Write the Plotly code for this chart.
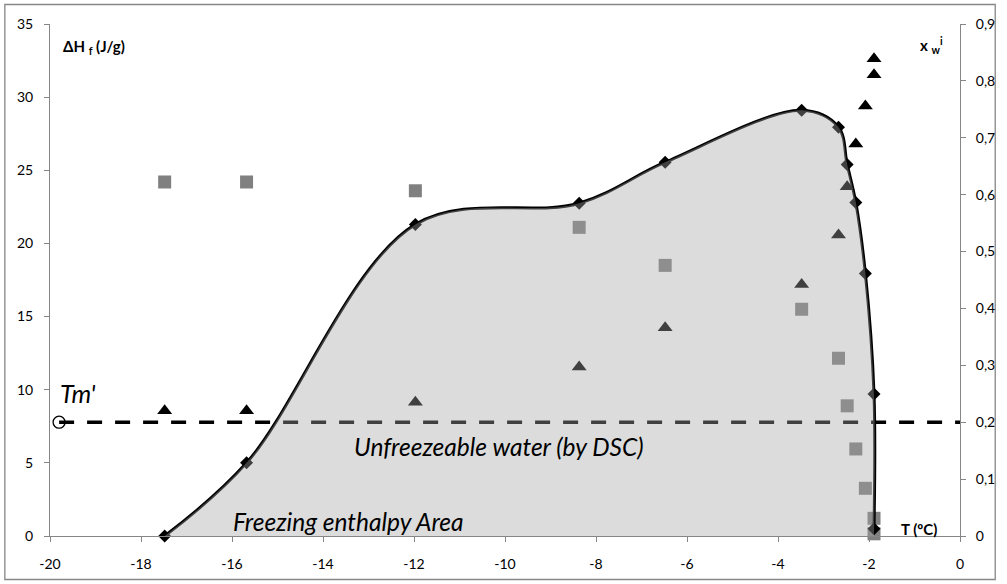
import plotly.graph_objects as go

# Temperature of each sample (ºC)
temp = [-17.48, -15.68, -11.97, -8.37, -6.48, -3.48, -2.67, -2.48, -2.29, -2.08, -1.89, -1.89]
# Freezing enthalpy, smoothed series (J/g)
dh_curve = [0.0, 5.0, 21.3, 22.75, 25.55, 29.1, 27.95, 25.4, 22.8, 17.95, 9.7, 0.5]
# Second enthalpy series (J/g)
dh_squares = [24.2, 24.2, 23.6, 21.1, 18.5, 15.5, 12.15, 8.9, 5.95, 3.26, 1.21, 0.15]
# Water mass fraction x_w^i (right axis)
xw_triangles = [0.22, 0.22, 0.235, 0.297, 0.366, 0.442, 0.529, 0.614, 0.689, 0.756, 0.811, 0.839]

# Unfreezeable water level and Tm'
unfreezable_xw = 0.2
tm_prime = -19.8

x_ticks = list(range(-20, 1, 2))
x_labels = ["-20", "-18", "-16", "-14", "-12", "-10", "-8", "-6", "-4", "-2", "0"]
y_ticks = list(range(0, 36, 5))
xw_ticks = [0.0, 0.1, 0.2, 0.3, 0.4, 0.5, 0.6, 0.7, 0.8, 0.9]
xw_labels = ["0", "0,1", "0,2", "0,3", "0,4", "0,5", "0,6", "0,7", "0,8", "0,9"]

FONT = "Lato"
AXIS_GREY = "#868686"
SMOOTH = 1.0

fig = go.Figure()

fig.add_trace(go.Scatter(
    x=temp, y=dh_squares, mode="markers", yaxis="y", cliponaxis=False,
    marker=dict(symbol="square", size=13, color="#808080", line=dict(width=0)),
))

fig.add_trace(go.Scatter(
    x=temp, y=dh_curve, mode="lines+markers", yaxis="y", cliponaxis=False,
    line=dict(color="black", width=3, shape="spline", smoothing=SMOOTH),
    marker=dict(symbol="diamond", size=10, color="black"),
))

fig.add_trace(go.Scatter(
    x=temp, y=xw_triangles, mode="markers", yaxis="y2", cliponaxis=False,
    marker=dict(symbol="triangle-up", size=13, color="black", line=dict(width=0)),
))

fig.add_trace(go.Scatter(
    x=[tm_prime, 0], y=[unfreezable_xw, unfreezable_xw], mode="lines", yaxis="y2",
    line=dict(color="black", width=3.5, dash="15px,13px"),
))

fig.add_trace(go.Scatter(
    x=[tm_prime], y=[unfreezable_xw], mode="markers", yaxis="y2", cliponaxis=False,
    marker=dict(symbol="circle-open", size=12, color="black", line=dict(width=1.3, color="black")),
))

# Translucent freezing enthalpy area laid over everything
fig.add_trace(go.Scatter(
    x=temp, y=dh_curve, mode="lines", yaxis="y3", fill="tozeroy",
    fillcolor="rgba(164,164,164,0.39)",
    line=dict(width=0, shape="spline", smoothing=SMOOTH, color="rgba(0,0,0,0)"),
))

axis_common = dict(
    showgrid=False, zeroline=False, showline=True, linecolor=AXIS_GREY, linewidth=1,
    ticks="outside", tickcolor=AXIS_GREY, ticklen=5,
    tickfont=dict(family=FONT, size=14, color="#000000"),
)

fig.update_layout(
    width=1007, height=584,
    margin=dict(l=50, r=40, t=24, b=48),
    paper_bgcolor="white", plot_bgcolor="white",
    showlegend=False,
    xaxis=dict(range=[-20, 0], tickvals=x_ticks, ticktext=x_labels, ticklabelstandoff=10, **axis_common),
    yaxis=dict(range=[0, 35], tickvals=y_ticks, ticklabelstandoff=8, **axis_common),
    yaxis2=dict(range=[0, 0.9], tickvals=xw_ticks, ticktext=xw_labels, side="right",
                overlaying="y", anchor="x", ticklabelstandoff=7, **axis_common),
    yaxis3=dict(range=[0, 35], overlaying="y", anchor="x", visible=False),
    font=dict(family=FONT, color="#000000"),
)

fig.add_annotation(x=-19.76, y=33.4, xref="x", yref="y", xanchor="left", yanchor="middle",
                   text="<b>ΔH <sub>f</sub> (J/g)</b>", showarrow=False,
                   font=dict(family=FONT, size=15, color="black"))
fig.add_annotation(x=-0.92, y=33.5, xref="x", yref="y", xanchor="left", yanchor="middle",
                   text="<b>x <sub>w</sub><sup>i</sup></b>", showarrow=False,
                   font=dict(family=FONT, size=15, color="black"))
fig.add_annotation(x=-0.91, y=0.5, xref="x", yref="y", xanchor="center", yanchor="middle",
                   text="<b>T (ºC)</b>", showarrow=False,
                   font=dict(family=FONT, size=15, color="black"))
fig.add_annotation(x=-19.82, y=9.77, xref="x", yref="y", xanchor="left", yanchor="middle",
                   text="<i>Tm'</i>", showarrow=False,
                   font=dict(family=FONT, size=25, color="black"))
fig.add_annotation(x=-10.14, y=6.15, xref="x", yref="y", xanchor="center", yanchor="middle",
                   text="<i>Unfreezeable water (by DSC)</i>", showarrow=False,
                   font=dict(family=FONT, size=24.5, color="black"))
fig.add_annotation(x=-13.45, y=0.96, xref="x", yref="y", xanchor="center", yanchor="middle",
                   text="<i>Freezing enthalpy Area</i>", showarrow=False,
                   font=dict(family=FONT, size=24.5, color="black"))

# Chart border
fig.add_shape(type="rect", xref="paper", yref="paper",
              x0=(4.5 - 50) / 917, x1=(1002.5 - 50) / 917,
              y0=(536 - 579.5) / 512, y1=(536 - 4.5) / 512,
              line=dict(color=AXIS_GREY, width=1.3), fillcolor="rgba(0,0,0,0)", layer="below")

fig.write_html("out.html")
